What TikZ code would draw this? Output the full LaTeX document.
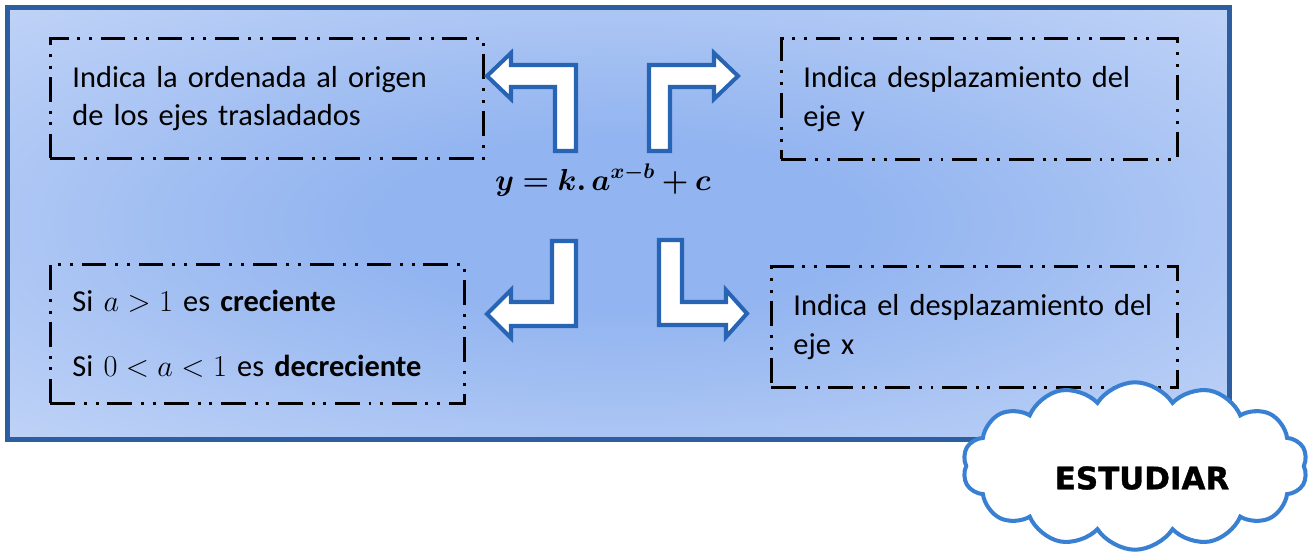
\documentclass[tikz,border=0pt]{standalone}
\usepackage{bm}
\usepackage{fontspec}
\setmainfont{Carlito}
\newfontfamily\cloudfont[BoldFeatures={FakeBold=1.2}]{DejaVu Sans}
\usetikzlibrary{shapes.symbols}

\definecolor{frameblue}{RGB}{44,94,160}
\definecolor{arrowblue}{RGB}{40,100,180}
\definecolor{cloudblue}{RGB}{58,128,210}
\definecolor{glowin}{RGB}{146,180,240}
\definecolor{glowout}{RGB}{214,226,250}

\pgfdeclareradialshading{panelglow}{\pgfpoint{0bp}{0bp}}{color(0bp)=(glowin); color(10bp)=(glowin); color(48bp)=(glowout); color(72bp)=(glowout)}

\tikzset{
	panel/.style={draw=frameblue, line width=2.8pt, shading=panelglow},
	notebox/.style={draw, line width=1.7pt, dash pattern=on 14pt off 5pt on 1.7pt off 5pt on 1.7pt off 5pt,
		anchor=north west, align=left, inner xsep=0.44cm, inner ysep=0pt, font={\fontsize{17.3pt}{22pt}\selectfont}},
	lawtext/.style={anchor=base, font={\fontsize{17.3pt}{20pt}\selectfont}},
	bentarrow/.style={draw=arrowblue, fill=white, line width=2.3pt},
	cloudbox/.style={cloud, cloud puffs=14, cloud puff arc=115, cloud ignores aspect, draw=cloudblue, fill=white, line width=2.3pt,
		minimum width=6.9cm, minimum height=3.35cm},
	studytext/.style={font={\cloudfont\bfseries\fontsize{17.6pt}{20pt}\selectfont}},
}

\begin{document}
\begin{tikzpicture}[x=0.02cm, y=-0.02cm]
	\useasboundingbox (0,0) rectangle (1313,555);
	% Panel:
	\path[panel] (7.5,7.5) rectangle (1229.5,439.5);
	% Note boxes:
	\node[notebox, text width=7.78cm, minimum height=2.4cm] (origin) at (49,37) {Indica la ordenada al origen\\de los ejes trasladados};
	\node[notebox, text width=7.04cm, minimum height=2.42cm] (shifty) at (780,37) {Indica desplazamiento del\\eje y};
	\node[notebox, text width=7.40cm, minimum height=2.78cm] (growth) at (49,263) {Si $a>1$ es \textbf{creciente}\\[15pt]Si $0<a<1$ es \textbf{decreciente}};
	\node[notebox, text width=7.24cm, minimum height=2.42cm] (shiftx) at (770,265) {Indica el desplazamiento del\\eje x};
	% Formula:
	\node[lawtext] (law) at (603,190) {$\bm{y=k.\,a^{x-b}+c}$};
	% Bent arrows:
	\draw[bentarrow] (576,151) -- (576,65) -- (511,65) -- (511,53) -- (487,76) -- (511,99) -- (511,87) -- (555,87) -- (555,151) -- cycle;
	\draw[bentarrow] (649,151) -- (649,65) -- (714,65) -- (714,53) -- (738,76) -- (714,99) -- (714,87) -- (670,87) -- (670,151) -- cycle;
	\draw[bentarrow] (552,241) -- (576,241) -- (576,326) -- (511,326) -- (511,338) -- (487,314) -- (511,290) -- (511,302) -- (552,302) -- cycle;
	\draw[bentarrow] (659,240) -- (682,240) -- (682,302) -- (726,302) -- (726,290) -- (747,313.5) -- (726,337) -- (726,325) -- (659,325) -- cycle;
	% Cloud:
	\node[cloudbox] (cloud) at (1135,466) {};
	\node[studytext] (study) at (1142,478) {ESTUDIAR};
\end{tikzpicture}
\end{document}
